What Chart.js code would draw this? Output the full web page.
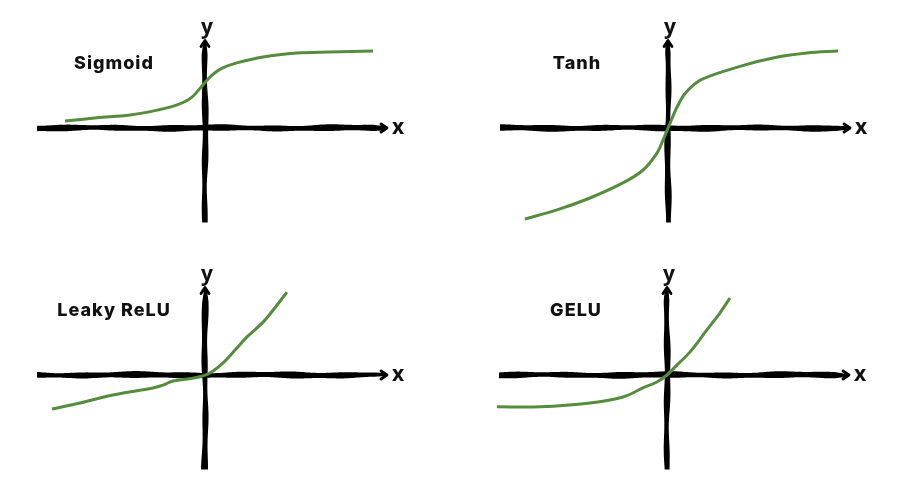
<!DOCTYPE html>
<html lang="en">
  <head>
    <meta charset="UTF-8" />
    <title>Activation functions</title>
    <script src="https://cdn.jsdelivr.net/npm/chart.js"></script>
    <style>
      html, body { margin: 0; padding: 0; background: #fff; }
      #wrap { position: relative; width: 900px; height: 479px; overflow: hidden; }
      canvas { position: absolute; }
    </style>
  </head>
  <body>
    <div id="wrap">
      <canvas id="c1" width="450" height="240" style="left:0;top:0"></canvas>
      <canvas id="c2" width="450" height="240" style="left:450px;top:0"></canvas>
      <canvas id="c3" width="450" height="239" style="left:0;top:240px"></canvas>
      <canvas id="c4" width="450" height="239" style="left:450px;top:240px"></canvas>
    </div>

    <script>
      // hand-drawn curves (1 unit = 35px, origin at the axes crossing)
      var titles = ["Sigmoid", "Tanh", "Leaky ReLU", "GELU"];

      var sigmoidX = [-4.0, -3.09, -2.14, -1.37, -0.8, -0.4, -0.06, 0.2, 0.49, 0.91, 1.66, 2.63, 3.57, 4.8];
      var sigmoidY = [0.2, 0.29, 0.37, 0.51, 0.66, 0.86, 1.23, 1.51, 1.71, 1.86, 2.03, 2.14, 2.17, 2.2];

      var tanhX = [-4.09, -3.17, -2.23, -1.29, -0.71, -0.31, -0.14, 0.06, 0.26, 0.5, 0.95, 2.06, 3.0, 3.97, 4.86];
      var tanhY = [-2.6, -2.34, -2.0, -1.57, -1.2, -0.71, -0.34, 0.14, 0.6, 1.0, 1.38, 1.76, 2.0, 2.14, 2.2];

      var leakyX = [-4.37, -3.57, -2.63, -1.49, -1.2, -0.91, -0.34, 0.09, 0.51, 0.91, 1.2, 1.66, 2.06, 2.34];
      var leakyY = [-0.97, -0.8, -0.57, -0.37, -0.29, -0.17, -0.09, 0.03, 0.34, 0.77, 1.09, 1.51, 2.0, 2.37];

      var geluX = [-4.86, -3.63, -2.2, -1.26, -0.69, -0.29, 0, 0.29, 0.66, 1.14, 1.51, 1.8];
      var geluY = [-0.91, -0.91, -0.8, -0.63, -0.37, -0.2, 0, 0.29, 0.66, 1.29, 1.77, 2.2];

      var xMin = -4.8, xMax = 5.2, yMin = -2.75, yMax = 2.5;

      var panels = [
        { id: "c1", xs: sigmoidX, ys: sigmoidY, pad: { left: 37, right: 63, top: 40.5, bottom: 15.75 } },
        { id: "c2", xs: tanhX, ys: tanhY, pad: { left: 50, right: 50, top: 40.5, bottom: 15.75 } },
        { id: "c3", xs: leakyX, ys: leakyY, pad: { left: 37, right: 63, top: 47.5, bottom: 7.75 } },
        { id: "c4", xs: geluX, ys: geluY, pad: { left: 49, right: 51, top: 47.5, bottom: 7.75 } },
      ];

      // thick wobbly marker stroke, like the sketch
      function roughLine(ctx, a0, a1, c, horizontal, seed) {
        var top = [], bot = [];
        for (var a = a0; a <= a1; a += 2) {
          var w = 5.6 + 0.8 * Math.sin(a * 0.12 + seed) + 0.5 * Math.sin(a * 0.041 + seed * 2);
          if (a > a1 - 12 && horizontal) w = w * (0.6 + 0.4 * (a1 - a) / 12);
          if (a < a0 + 12 && !horizontal) w = w * (0.6 + 0.4 * (a - a0) / 12);
          var off = 0.5 * Math.sin(a * 0.05 + seed);
          if (horizontal) {
            top.push([a, c + off - w / 2]);
            bot.push([a, c + off + w / 2]);
          } else {
            top.push([c + off - w / 2, a]);
            bot.push([c + off + w / 2, a]);
          }
        }
        ctx.beginPath();
        ctx.moveTo(top[0][0], top[0][1]);
        top.forEach(function (p) { ctx.lineTo(p[0], p[1]); });
        for (var i = bot.length - 1; i >= 0; i--) ctx.lineTo(bot[i][0], bot[i][1]);
        ctx.closePath();
        ctx.fill();
      }

      var sketchAxes = {
        id: "sketchAxes",
        beforeDatasetsDraw: function (chart, args, opts) {
          var ctx = chart.ctx;
          var area = chart.chartArea;
          var ox = chart.scales.x.getPixelForValue(0);
          var oy = chart.scales.y.getPixelForValue(0);
          ctx.save();
          ctx.fillStyle = "#000";
          ctx.strokeStyle = "#000";
          roughLine(ctx, area.left, area.right - 2, oy, true, opts.seed);
          roughLine(ctx, area.top + 2, area.bottom, ox, false, opts.seed + 1.3);
          // arrow heads
          ctx.lineWidth = 2.8;
          ctx.lineCap = "round";
          ctx.lineJoin = "round";
          ctx.beginPath();
          ctx.moveTo(area.right - 6, oy - 4);
          ctx.lineTo(area.right, oy);
          ctx.lineTo(area.right - 6, oy + 4);
          ctx.stroke();
          ctx.beginPath();
          ctx.moveTo(ox - 4, area.top + 6);
          ctx.lineTo(ox, area.top);
          ctx.lineTo(ox + 4, area.top + 6);
          ctx.stroke();
          ctx.restore();
        },
        afterDraw: function (chart, args, opts) {
          var ctx = chart.ctx;
          var area = chart.chartArea;
          var ox = chart.scales.x.getPixelForValue(0);
          var oy = chart.scales.y.getPixelForValue(0);
          ctx.save();
          ctx.fillStyle = "#111";
          ctx.font = "bold 21px 'Open Sans', sans-serif";
          ctx.textAlign = "center";
          ctx.textBaseline = "middle";
          ctx.fillText("x", area.right + 11, oy);
          ctx.textBaseline = "alphabetic";
          ctx.fillText("y", ox + 2, area.top - 7);
          ctx.font = "800 18px Inter, 'Open Sans', sans-serif";
          ctx.letterSpacing = "1px";
          ctx.fillText(opts.title, ox - 91, oy - 59);
          ctx.restore();
        },
      };

      panels.forEach(function (p, i) {
        var pts = p.xs.map(function (x, k) { return { x: x, y: p.ys[k] }; });
        new Chart(document.getElementById(p.id), {
          type: "line",
          data: {
            datasets: [
              {
                data: pts,
                borderColor: "#558c3e",
                borderWidth: 3,
                pointRadius: 0,
                tension: 0.35,
                fill: false,
                clip: false,
              },
            ],
          },
          options: {
            responsive: false,
            animation: false,
            layout: { padding: p.pad },
            scales: {
              x: { type: "linear", min: xMin, max: xMax, display: false },
              y: { type: "linear", min: yMin, max: yMax, display: false },
            },
            plugins: {
              legend: { display: false },
              tooltip: { enabled: false },
              sketchAxes: { title: titles[i], seed: i * 2.1 },
            },
          },
          plugins: [sketchAxes],
        });
      });
    </script>
  </body>
</html>
